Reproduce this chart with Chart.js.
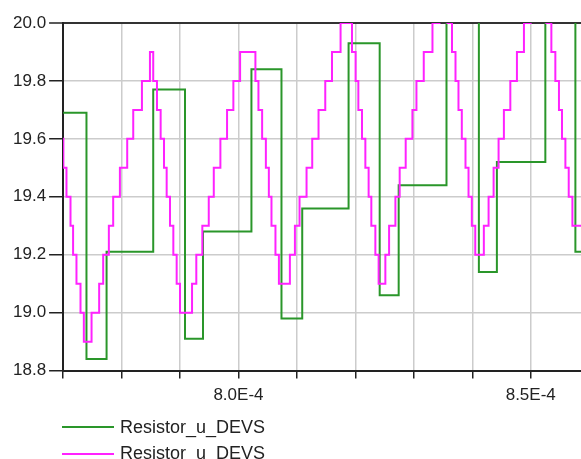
<!DOCTYPE html>
<html>
<head>
<meta charset="utf-8">
<title>Resistor_u_DEVS</title>
<script src="https://cdn.jsdelivr.net/npm/chart.js@4.4.1/dist/chart.umd.min.js"></script>
<style>
  body { margin: 0; background: #fff; font-family: "Liberation Sans", Arial, sans-serif; }
  .wrap { position: relative; width: 581px; height: 459px; overflow: hidden; }
  #legend { position: absolute; left: 62px; top: 414px; }
  #legend ul { list-style: none; margin: 0; padding: 0; }
  #legend li { display: flex; align-items: center; height: 26.6px; font-size: 18px; color: #222; white-space: nowrap; }
  #legend .swatch { width: 52px; height: 2px; margin-right: 6px; }
</style>
</head>
<body>
<div class="wrap">
  <canvas id="chart" width="581" height="459"></canvas>
  <div id="legend"></div>
</div>
<script>
// times in microseconds, values in volts (stepped signals)
const greenTimeUs = [770.0, 774.0, 777.44, 785.42, 790.86, 793.94, 802.22, 807.36, 810.91,
  818.84, 824.16, 827.41, 835.59, 841.13, 844.21, 852.5, 857.64, 858.7];
const greenValues = [19.69, 18.84, 19.21, 19.77, 18.91, 19.28, 19.84, 18.98, 19.36,
  19.93, 19.06, 19.44, 20.08, 19.14, 19.52, 20.08, 19.21, 19.21];

const magentaTimeUs = [
  770.0, 770.05, 770.58, 771.27, 771.71, 772.29, 772.98, 773.55, 774.87, 776.17,
  776.86, 777.83, 778.57, 779.72, 780.97, 782.0, 783.49, 784.86, 785.42, 786.06,
  786.69, 787.26, 787.72, 788.29, 788.86, 789.43, 790.0, 792.06, 792.79, 793.82,
  794.92, 795.78, 796.91, 798.05, 799.13, 800.28, 802.9, 803.42, 804.05, 804.69,
  805.2, 805.65, 806.33, 806.92, 808.8, 809.66, 810.45, 811.65, 812.62, 813.7,
  814.85, 816.0, 817.47, 819.43, 820.04, 820.51, 821.14, 821.71, 822.27, 822.73,
  823.42, 823.98, 825.13, 825.77, 826.85, 827.58, 828.61, 829.76, 830.45, 831.7,
  833.19, 834.39, 835.76, 836.53, 837.13, 837.64, 838.21, 838.84, 839.36, 839.92,
  840.51, 841.98, 842.79, 843.65, 844.5, 845.41, 846.51, 847.64, 848.84, 849.99,
  852.67, 853.53, 854.21, 854.83, 855.35, 855.93, 856.5, 857.13, 858.7];
const magentaValues = [
  19.6, 19.5, 19.4, 19.3, 19.2, 19.1, 19.0, 18.9, 19.0, 19.1,
  19.2, 19.3, 19.4, 19.5, 19.6, 19.7, 19.8, 19.9, 19.8, 19.7,
  19.6, 19.5, 19.4, 19.3, 19.2, 19.1, 19.0, 19.1, 19.2, 19.3,
  19.4, 19.5, 19.6, 19.7, 19.8, 19.9, 19.8, 19.7, 19.6, 19.5,
  19.4, 19.3, 19.2, 19.1, 19.2, 19.3, 19.4, 19.5, 19.6, 19.7,
  19.8, 19.9, 20.0, 19.9, 19.8, 19.7, 19.6, 19.5, 19.4, 19.3,
  19.2, 19.1, 19.2, 19.3, 19.4, 19.5, 19.6, 19.7, 19.8, 19.9,
  20.0, 20.1, 20.0, 19.9, 19.8, 19.7, 19.6, 19.5, 19.4, 19.3,
  19.2, 19.3, 19.4, 19.5, 19.6, 19.7, 19.8, 19.9, 20.0, 20.1,
  20.0, 19.9, 19.8, 19.7, 19.6, 19.5, 19.4, 19.3, 19.3];

const seriesLabels = ['Resistor_u_DEVS', 'Resistor_u_DEVS'];
const xTickUs = [770, 780, 790, 800, 810, 820, 830, 840, 850];
const xLabelUs = [800, 850];
const yTickValues = [18.8, 19.0, 19.2, 19.4, 19.6, 19.8, 20.0];
const xMinUs = 770, xMaxUs = 858.6;

const toPoints = (times, values) => times.map((t, i) => ({ x: t * 1e-6, y: values[i] }));

const htmlLegend = {
  id: 'htmlLegend',
  afterUpdate(chart) {
    const box = document.getElementById('legend');
    box.innerHTML = '';
    const ul = document.createElement('ul');
    chart.data.datasets.forEach(ds => {
      const li = document.createElement('li');
      const sw = document.createElement('span');
      sw.className = 'swatch';
      sw.style.background = ds.borderColor;
      li.appendChild(sw);
      li.appendChild(document.createTextNode(ds.label));
      ul.appendChild(li);
    });
    box.appendChild(ul);
  }
};

Chart.defaults.font.family = '"Liberation Sans", Arial, sans-serif';
Chart.defaults.font.size = 17;
Chart.defaults.color = '#222';

new Chart(document.getElementById('chart'), {
  type: 'line',
  data: {
    datasets: [
      {
        label: seriesLabels[0],
        data: toPoints(greenTimeUs, greenValues),
        borderColor: '#2a962a',
        borderWidth: 2,
        stepped: true,
        pointRadius: 0,
        order: 1
      },
      {
        label: seriesLabels[1],
        data: toPoints(magentaTimeUs, magentaValues),
        borderColor: '#ff22ff',
        borderWidth: 2,
        stepped: true,
        pointRadius: 0,
        order: 0
      }
    ]
  },
  options: {
    responsive: false,
    animation: false,
    layout: { padding: { left: 10, top: 23, right: 0, bottom: 46 } },
    plugins: { legend: { display: false }, tooltip: { enabled: false } },
    scales: {
      x: {
        type: 'linear',
        min: xMinUs * 1e-6,
        max: xMaxUs * 1e-6,
        afterBuildTicks: scale => { scale.ticks = xTickUs.map(v => ({ value: v * 1e-6 })); },
        ticks: {
          autoSkip: false,
          maxRotation: 0,
          padding: 7,
          callback: v => {
            const us = Math.round(v * 1e6);
            return xLabelUs.includes(us) ? (us * 1e-6).toExponential(1).toUpperCase() : '';
          }
        },
        grid: { color: '#cccccc', lineWidth: 1.5, tickLength: 8, tickColor: '#222', tickWidth: 1.5 },
        border: { color: '#222', width: 2 }
      },
      y: {
        min: 18.8,
        max: 20.0,
        afterBuildTicks: scale => { scale.ticks = yTickValues.map(v => ({ value: v })); },
        ticks: { padding: 3, callback: v => v.toFixed(1) },
        grid: {
          color: ctx => (ctx.tick && ctx.tick.value > 19.99) ? '#333' : '#cccccc',
          lineWidth: ctx => (ctx.tick && ctx.tick.value > 19.99) ? 2 : 1.5,
          tickLength: 14, tickColor: '#222', tickWidth: 1.5
        },
        border: { color: '#222', width: 2 }
      }
    }
  },
  plugins: [htmlLegend]
});
</script>
</body>
</html>
